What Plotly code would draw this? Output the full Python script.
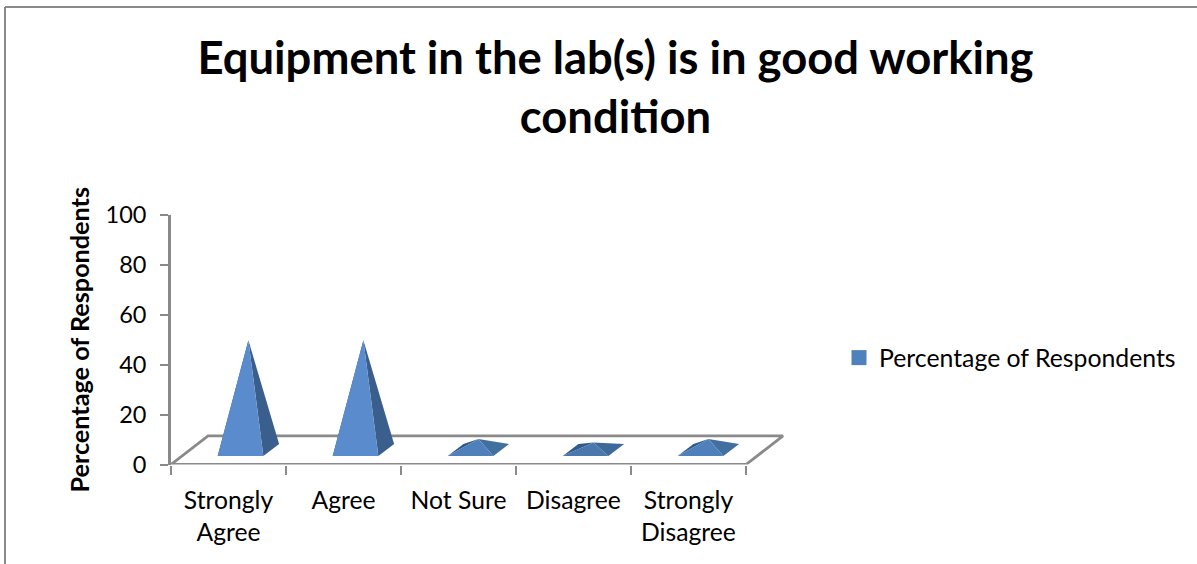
import plotly.graph_objects as go

TITLE = "Equipment in the lab(s) is in good working<br>condition\u2002"
categories = ["Strongly<br>Agree", "Agree", "Not Sure", "Disagree", "Strongly<br>Disagree"]
values = [44, 44, 4.4, 3, 4.4]
series_name = "Percentage of Respondents"
y_ticks = [0, 20, 40, 60, 80, 100]

W, H = 1197, 564
X0, X1, Y0, Y100 = 171, 815, 464.5, 215
GRAY = "#8a8a8a"
FONT = "Lato"
# 3-D projection constants, in axis units
DEPTH_X, DEPTH_Y = 0.322, 11.45
LEFT, RIGHT, FRONT = 0.406, 0.803, 3.4
BASE_DX, BASE_DY = 0.137, 4.8


def shade(v):
    if v > 20:
        return "#5a8ccd", "#3b5f8c", "#2f5a8a"
    if v > 3.5:
        return "#4f80bb", "#41709f", "#2f5a8a"
    return "#4a78ad", "#3d6a9b", "#2f5a8a"


fig = go.Figure()
n = len(categories)
fig.add_trace(go.Scatter(
    x=[0, n, n + DEPTH_X, DEPTH_X, 0], y=[0, 0, DEPTH_Y, DEPTH_Y, 0],
    mode="lines", line=dict(color=GRAY, width=2.8), fill="toself", fillcolor="white",
    showlegend=False, hoverinfo="skip"))

for i, v in enumerate(values):
    fl = (i + LEFT, FRONT)
    fr = (i + RIGHT, FRONT)
    br = (fr[0] + BASE_DX, FRONT + BASE_DY)
    bl = (fl[0] + BASE_DX, FRONT + BASE_DY)
    apex = ((fl[0] + br[0]) / 2, FRONT + BASE_DY / 2 + v)
    front, right, left = shade(v)
    for pts, col in (((fl, bl, apex), left), ((fr, br, apex), right), ((fl, fr, apex), front)):
        xs = [p[0] for p in pts] + [pts[0][0]]
        ys = [p[1] for p in pts] + [pts[0][1]]
        fig.add_trace(go.Scatter(x=xs, y=ys, mode="lines", line=dict(width=0), fill="toself",
                                 fillcolor=col, showlegend=False, hoverinfo="skip"))

fig.add_trace(go.Scatter(x=[None], y=[None], mode="markers", name=series_name,
                         marker=dict(symbol="square", size=15, color="#4f81bd")))

fig.update_layout(
    width=W, height=H, autosize=False,
    margin=dict(l=0, r=0, t=0, b=0, autoexpand=False),
    paper_bgcolor="white", plot_bgcolor="white",
    font=dict(family=FONT, color="#000000"),
    title=dict(text=TITLE, x=615.5 / W, xref="container", xanchor="center",
               y=1 - 74 / H, yref="container", yanchor="top",
               font=dict(family=FONT, size=45.4, color="#000000", weight="bold")),
    xaxis=dict(domain=[X0 / W, X1 / W], range=[0, (X1 - X0) / 115], showgrid=False, zeroline=False,
               showline=False, ticks="", tickmode="array",
               tickvals=[i + 0.5 for i in range(n)], ticktext=categories,
               tickfont=dict(size=24.7), tickangle=0, ticklabelstandoff=19,
               minor=dict(ticks="outside", tickmode="array", tickvals=list(range(n + 1)),
                          ticklen=9, tickwidth=2, tickcolor=GRAY, showgrid=False)),
    yaxis=dict(domain=[1 - Y0 / H, 1 - Y100 / H], range=[0, 100], showgrid=False, zeroline=False,
               showline=True, linecolor=GRAY, linewidth=2.8, ticks="outside", ticklen=8,
               tickwidth=2, tickcolor=GRAY, tickmode="array", tickvals=y_ticks,
               tickfont=dict(size=23.5), anchor="x", ticklabelstandoff=9,
               title=dict(text=series_name, font=dict(size=25.2, weight="bold"), standoff=9)),
    legend=dict(x=839 / W, y=1 - 358 / H, xanchor="left", yanchor="middle",
                font=dict(size=24.8), bgcolor="rgba(0,0,0,0)"),
    shapes=[
        dict(type="line", xref="paper", yref="paper", x0=5 / W, x1=1, y0=1 - 7 / H, y1=1 - 7 / H,
             line=dict(color=GRAY, width=2)),
        dict(type="line", xref="paper", yref="paper", x0=5 / W, x1=5 / W, y0=0, y1=1 - 7 / H,
             line=dict(color=GRAY, width=2)),
    ],
)
fig.write_html("out.html", post_script="document.body.style.margin='0';",
               config={"displayModeBar": False})
